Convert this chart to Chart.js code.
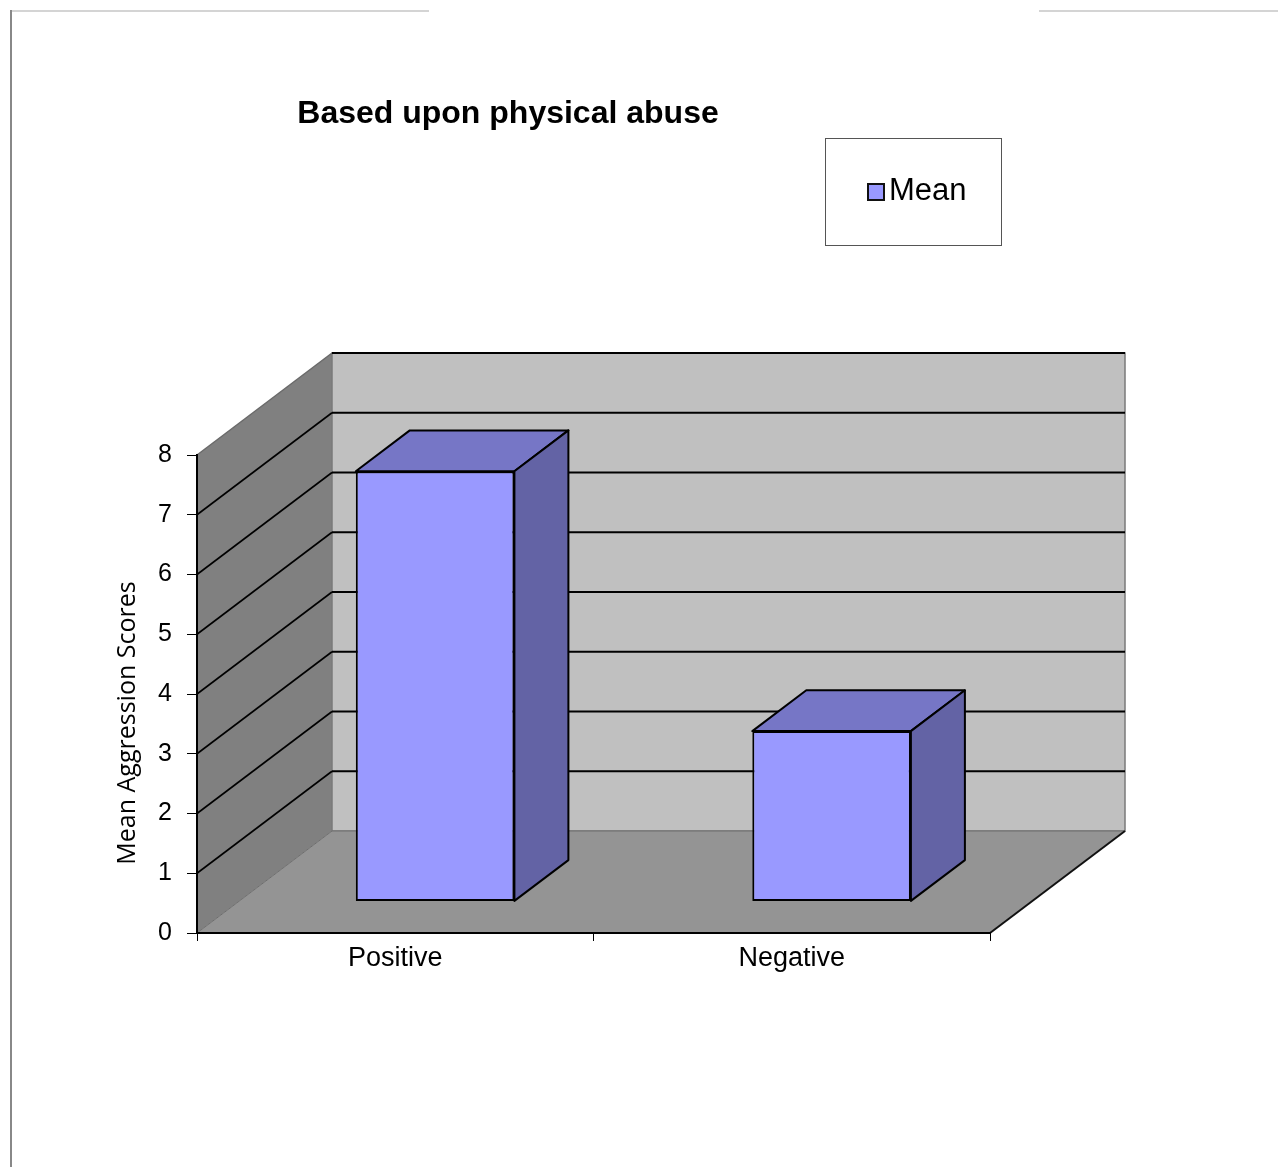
<!DOCTYPE html>
<html>
<head>
<meta charset="utf-8">
<script src="https://cdn.jsdelivr.net/npm/chart.js@4.4.0/dist/chart.umd.min.js"></script>
<style>
  html, body { margin: 0; padding: 0; background: #fff; }
  canvas { display: block; }
</style>
</head>
<body>
<canvas id="chart" width="1278" height="1167"></canvas>
<script>
// Data
const categories = ['Positive', 'Negative'];
const meanScores = [7.2, 2.85];
const seriesName = 'Mean';
const chartTitle = 'Based upon physical abuse';
const yAxisTitle = 'Mean Aggression Scores';
const yMin = 0, yMax = 8, yStep = 1;

// 3D look: depth vector of the plot box, and where the bars sit inside it
const DEPTH = { x: 135, y: -102 };
const BAR_FRONT = 0.31, BAR_BACK = 0.71;

const colors = {
  barFront: '#9999ff',
  barTop: '#7676c6',
  barSide: '#6363a5',
  backWall: '#c0c0c0',
  sideWall: '#808080',
  floor: '#949494'
};

// walls, floor and gridlines behind everything
const walls3d = {
  id: 'walls3d',
  beforeDraw(chart) {
    const { ctx, chartArea: a } = chart;
    const y = chart.scales.y;
    const dx = DEPTH.x, dy = DEPTH.y;
    ctx.save();

    // left wall
    ctx.fillStyle = colors.sideWall;
    ctx.beginPath();
    ctx.moveTo(a.left, a.bottom);
    ctx.lineTo(a.left, a.top);
    ctx.lineTo(a.left + dx, a.top + dy);
    ctx.lineTo(a.left + dx, a.bottom + dy);
    ctx.closePath();
    ctx.fill();

    // back wall
    ctx.fillStyle = colors.backWall;
    ctx.fillRect(a.left + dx, a.top + dy, a.right - a.left, a.bottom - a.top);
    ctx.strokeStyle = '#7a7a7a';
    ctx.lineWidth = 1.5;
    ctx.strokeRect(a.left + dx, a.top + dy, a.right - a.left, a.bottom - a.top);

    // floor
    ctx.fillStyle = colors.floor;
    ctx.beginPath();
    ctx.moveTo(a.left, a.bottom);
    ctx.lineTo(a.right, a.bottom);
    ctx.lineTo(a.right + dx, a.bottom + dy);
    ctx.lineTo(a.left + dx, a.bottom + dy);
    ctx.closePath();
    ctx.fill();
    ctx.strokeStyle = '#6e6e6e';
    ctx.lineWidth = 1;
    ctx.beginPath();
    ctx.moveTo(a.left, a.bottom);
    ctx.lineTo(a.left + dx, a.bottom + dy);
    ctx.lineTo(a.right + dx, a.bottom + dy);
    ctx.stroke();
    ctx.strokeStyle = '#111';
    ctx.lineWidth = 2;
    ctx.beginPath();
    ctx.moveTo(a.right, a.bottom);
    ctx.lineTo(a.right + dx, a.bottom + dy);
    ctx.stroke();

    // gridlines on left wall and back wall
    for (let v = yMin + yStep; v <= yMax; v += yStep) {
      const py = y.getPixelForValue(v);
      ctx.strokeStyle = v === yMax ? '#6a6a6a' : '#000';
      ctx.lineWidth = v === yMax ? 1.5 : 1.6;
      ctx.beginPath();
      ctx.moveTo(a.left, py);
      ctx.lineTo(a.left + dx, py + dy);
      ctx.stroke();
      ctx.strokeStyle = '#000';
      ctx.lineWidth = 2;
      ctx.beginPath();
      ctx.moveTo(a.left + dx, py + dy);
      ctx.lineTo(a.right + dx, py + dy);
      ctx.stroke();
    }
    ctx.restore();
  },
  beforeDatasetsDraw(chart) {
    chart.ctx.save();
    chart.ctx.translate(DEPTH.x * BAR_FRONT - 2, DEPTH.y * BAR_FRONT);
  },
  afterDatasetsDraw(chart) {
    const ctx = chart.ctx;
    ctx.restore();
    const fx = DEPTH.x * BAR_FRONT - 2, fy = DEPTH.y * BAR_FRONT;
    const bx = DEPTH.x * (BAR_BACK - BAR_FRONT), by = DEPTH.y * (BAR_BACK - BAR_FRONT);
    ctx.save();
    ctx.strokeStyle = '#000';
    ctx.lineWidth = 2;
    ctx.lineJoin = 'round';
    chart.getDatasetMeta(0).data.forEach(bar => {
      const l = bar.x - bar.width / 2 + fx, r = bar.x + bar.width / 2 + fx;
      const t = bar.y + fy, b = bar.base + fy;
      // top face
      ctx.fillStyle = colors.barTop;
      ctx.beginPath();
      ctx.moveTo(l, t);
      ctx.lineTo(r, t);
      ctx.lineTo(r + bx, t + by);
      ctx.lineTo(l + bx, t + by);
      ctx.closePath();
      ctx.fill();
      ctx.stroke();
      // side face
      ctx.fillStyle = colors.barSide;
      ctx.beginPath();
      ctx.moveTo(r, t);
      ctx.lineTo(r + bx, t + by);
      ctx.lineTo(r + bx, b + by);
      ctx.lineTo(r, b);
      ctx.closePath();
      ctx.fill();
      ctx.stroke();
    });
    ctx.restore();
  },
  afterDraw(chart) {
    const ctx = chart.ctx;
    ctx.save();
    // outer frame
    ctx.strokeStyle = '#d4d4d4';
    ctx.lineWidth = 2;
    ctx.beginPath();
    ctx.moveTo(10, 11); ctx.lineTo(429, 11);
    ctx.moveTo(1039, 11); ctx.lineTo(1278, 11);
    ctx.stroke();
    ctx.strokeStyle = '#888';
    ctx.beginPath();
    ctx.moveTo(11, 10); ctx.lineTo(11, 1167);
    ctx.stroke();

    // title
    ctx.fillStyle = '#000';
    ctx.font = 'bold 32px "Liberation Sans", Arial, sans-serif';
    ctx.textAlign = 'center';
    ctx.textBaseline = 'middle';
    ctx.fillText(chartTitle, 508, 114);

    // legend box
    ctx.strokeStyle = '#555';
    ctx.lineWidth = 1;
    ctx.strokeRect(825.5, 138.5, 176, 107);
    ctx.fillStyle = colors.barFront;
    ctx.fillRect(868, 184, 16, 16);
    ctx.strokeStyle = '#111';
    ctx.lineWidth = 2;
    ctx.strokeRect(868, 184, 16, 16);
    ctx.fillStyle = '#000';
    ctx.font = '31px "Liberation Sans", Arial, sans-serif';
    ctx.textAlign = 'left';
    ctx.fillText(chart.data.datasets[0].label, 889, 191);

    // y axis title
    ctx.translate(128, 723);
    ctx.rotate(-Math.PI / 2);
    ctx.textAlign = 'center';
    ctx.font = '25px "Open Sans", sans-serif';
    ctx.fillText(yAxisTitle, 0, 0);
    ctx.restore();
  }
};

const axisFont = { family: '"Liberation Sans", Arial, sans-serif', size: 25 };

new Chart(document.getElementById('chart'), {
  type: 'bar',
  data: {
    labels: categories,
    datasets: [{
      label: seriesName,
      data: meanScores,
      backgroundColor: colors.barFront,
      borderColor: '#000',
      borderWidth: 2,
      borderSkipped: false,
      barPercentage: 0.4,
      categoryPercentage: 1,
      clip: false
    }]
  },
  options: {
    responsive: false,
    animation: false,
    layout: { padding: { top: 455, left: 113, right: 288, bottom: 174 } },
    plugins: {
      legend: { display: false },
      title: { display: false },
      tooltip: { enabled: false }
    },
    scales: {
      x: {
        afterFit: s => { s.height = 60; },
        grid: { drawOnChartArea: false, drawTicks: true, tickLength: 8, color: '#000', offset: true },
        border: { display: true, color: '#000', width: 2 },
        ticks: { color: '#000', font: { family: axisFont.family, size: 27 }, padding: 1 }
      },
      y: {
        min: yMin,
        max: yMax,
        afterFit: s => { s.width = 84; },
        grid: { drawOnChartArea: false, drawTicks: true, tickLength: 10, color: '#000' },
        border: { display: true, color: '#000', width: 2 },
        ticks: { stepSize: yStep, color: '#000', font: axisFont, padding: 15 }
      }
    }
  },
  plugins: [walls3d]
});
</script>
</body>
</html>
